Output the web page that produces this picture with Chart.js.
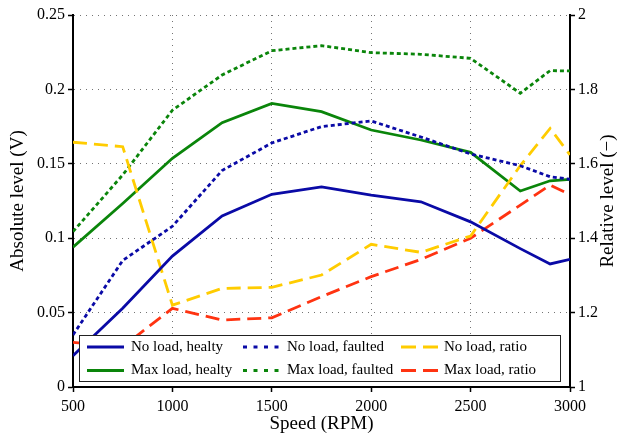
<!DOCTYPE html>
<html>
<head>
<meta charset="utf-8">
<script src="https://cdn.jsdelivr.net/npm/chart.js@4.4.1/dist/chart.umd.min.js"></script>
<style>
  html, body { margin: 0; padding: 0; background: #fff; }
  #wrap { width: 623px; height: 437px; position: relative; }
</style>
</head>
<body>
<div id="wrap"><canvas id="c" width="623" height="437"></canvas></div>
<script>
// Motor speed sweep (RPM)
const speeds = [500, 750, 1000, 1250, 1500, 1750, 2000, 2250, 2500, 2750, 2900, 3000];

// Absolute levels (V)
const noLoadHealthy  = [0.021, 0.053, 0.088, 0.115, 0.1295, 0.1345, 0.129, 0.1245, 0.111, 0.093, 0.0827, 0.0858];
const noLoadFaulted  = [0.035, 0.085, 0.108, 0.1455, 0.164, 0.175, 0.1788, 0.168, 0.1566, 0.1487, 0.1413, 0.1396];
const maxLoadHealthy = [0.094, 0.1233, 0.1537, 0.1776, 0.1906, 0.185, 0.1727, 0.166, 0.1577, 0.1317, 0.1386, 0.1396];
const maxLoadFaulted = [0.1044, 0.1425, 0.186, 0.2097, 0.226, 0.2294, 0.2247, 0.2236, 0.2209, 0.1974, 0.2126, 0.2124];

// Relative levels (faulted / healthy)
const noLoadRatio  = [1.658, 1.646, 1.220, 1.265, 1.268, 1.301, 1.3835, 1.362, 1.406, 1.595, 1.695, 1.624];
const maxLoadRatio = [1.12, 1.108, 1.2115, 1.18, 1.186, 1.243, 1.2966, 1.343, 1.40, 1.489, 1.543, 1.517];

const seriesLabels = [
  'No load, healty', 'No load, faulted', 'No load, ratio',
  'Max load, healty', 'Max load, faulted', 'Max load, ratio'
];

const xTitle = 'Speed (RPM)';
const yLeftTitle = 'Absolute level (V)';
const yRightTitle = 'Relative level (\u2212)';

const BLUE = '#0a0aa6';
const GREEN = '#0a850a';
const YELLOW = '#ffcc00';
const RED = '#ff3311';
const SERIF = '"Liberation Serif", "Times New Roman", serif';

const DOTTED = [4, 3];
const DASHED = [14, 7];

function pts(ys) { return speeds.map((s, i) => ({ x: s, y: ys[i] })); }

function line(label, ys, color, dash, axis) {
  return {
    label, data: pts(ys), yAxisID: axis,
    borderColor: color, backgroundColor: color,
    borderWidth: 2.8, borderDash: dash,
    pointRadius: 0, pointHoverRadius: 0,
    tension: 0, fill: false, borderCapStyle: 'butt', borderJoinStyle: 'miter'
  };
}

const datasets = [
  line(seriesLabels[0], noLoadHealthy, BLUE, [], 'y'),
  line(seriesLabels[1], noLoadFaulted, BLUE, DOTTED, 'y'),
  line(seriesLabels[2], noLoadRatio, YELLOW, DASHED, 'y2'),
  line(seriesLabels[3], maxLoadHealthy, GREEN, [], 'y'),
  line(seriesLabels[4], maxLoadFaulted, GREEN, DOTTED, 'y'),
  line(seriesLabels[5], maxLoadRatio, RED, DASHED, 'y2')
];

// Framed legend inside the bottom of the plot, 3 columns x 2 rows
const boxLegend = {
  id: 'boxLegend',
  afterDatasetsDraw(chart) {
    const { ctx, chartArea } = chart;
    const x0 = chartArea.left + 6.5, y0 = chartArea.bottom - 51.5;
    const w = 481, h = 46;
    ctx.save();
    ctx.fillStyle = '#fff';
    ctx.fillRect(x0, y0, w, h);
    ctx.strokeStyle = '#222';
    ctx.lineWidth = 1;
    ctx.setLineDash([]);
    ctx.strokeRect(x0, y0, w, h);
    const sampleX = [14, 170, 328];
    const textX = [58, 214, 371];
    const rowY = [11.5, 35];
    ctx.font = '15px ' + SERIF;
    ctx.textBaseline = 'middle';
    ctx.textAlign = 'left';
    chart.data.datasets.forEach((ds, i) => {
      const col = i % 3, row = Math.floor(i / 3);
      const y = y0 + rowY[row];
      const sx = chartArea.left + sampleX[col];
      ctx.beginPath();
      ctx.strokeStyle = ds.borderColor;
      ctx.lineWidth = 2.8;
      ctx.lineCap = 'butt';
      ctx.setLineDash(ds.borderDash && ds.borderDash.length ? (ds.borderDash === DASHED ? [15, 7] : [4, 6.5]) : []);
      ctx.moveTo(sx, y);
      ctx.lineTo(sx + 37, y);
      ctx.stroke();
      ctx.setLineDash([]);
      ctx.fillStyle = '#000';
      ctx.fillText(ds.label, chartArea.left + textX[col], y);
    });
    ctx.restore();
  }
};

// Right-hand axis title, reading bottom to top
const rightTitle = {
  id: 'rightTitle',
  afterDraw(chart) {
    const { ctx, chartArea } = chart;
    ctx.save();
    ctx.translate(608, (chartArea.top + chartArea.bottom) / 2);
    ctx.rotate(-Math.PI / 2);
    ctx.font = '19px ' + SERIF;
    ctx.fillStyle = '#000';
    ctx.textAlign = 'center';
    ctx.textBaseline = 'middle';
    ctx.fillText(yRightTitle, 0, 0);
    ctx.restore();
  }
};

const tickFont = { family: SERIF, size: 16 };
const gridDots = [1, 5];
const gridColor = 'rgba(70,70,70,0.75)';

new Chart(document.getElementById('c'), {
  type: 'line',
  data: { datasets },
  options: {
    responsive: false,
    animation: false,
    devicePixelRatio: 1,
    layout: { padding: { top: 15, left: 0, right: 0, bottom: 0 } },
    plugins: { legend: { display: false }, tooltip: { enabled: false } },
    scales: {
      x: {
        type: 'linear', min: 500, max: 3000,
        afterFit(s) { s.height = 50; },
        ticks: { stepSize: 500, color: '#000', font: tickFont, padding: 5, maxRotation: 0,
                 callback: v => String(v) },
        grid: { color: gridColor, lineWidth: 1, tickLength: 5, tickColor: '#000', tickWidth: 1.5 },
        border: { display: true, color: '#000', width: 2, dash: gridDots },
        title: { display: true, text: xTitle, color: '#000', font: { family: SERIF, size: 19 },
                 padding: { top: 0, bottom: 2 } }
      },
      y: {
        position: 'left', min: 0, max: 0.25,
        afterFit(s) { s.width = 73; },
        ticks: { stepSize: 0.05, color: '#000', font: tickFont, padding: 3,
                 callback: v => String(Number(v.toFixed(2))) },
        grid: { color: gridColor, lineWidth: 1, tickLength: 5, tickColor: '#000', tickWidth: 1.5 },
        border: { display: true, color: '#000', width: 2, dash: gridDots },
        title: { display: true, text: yLeftTitle, color: '#000', font: { family: SERIF, size: 19 },
                 padding: { top: 6.5, bottom: 0 } }
      },
      y2: {
        position: 'right', min: 1, max: 2,
        afterFit(s) { s.width = 53; },
        ticks: { stepSize: 0.2, color: '#000', font: tickFont, padding: 3,
                 callback: v => String(Number(v.toFixed(1))) },
        grid: { drawOnChartArea: false, color: '#000', tickLength: 5, tickWidth: 1.5 },
        border: { display: true, color: '#000', width: 2 },
        title: { display: false }
      }
    }
  },
  plugins: [boxLegend, rightTitle]
});
</script>
</body>
</html>
